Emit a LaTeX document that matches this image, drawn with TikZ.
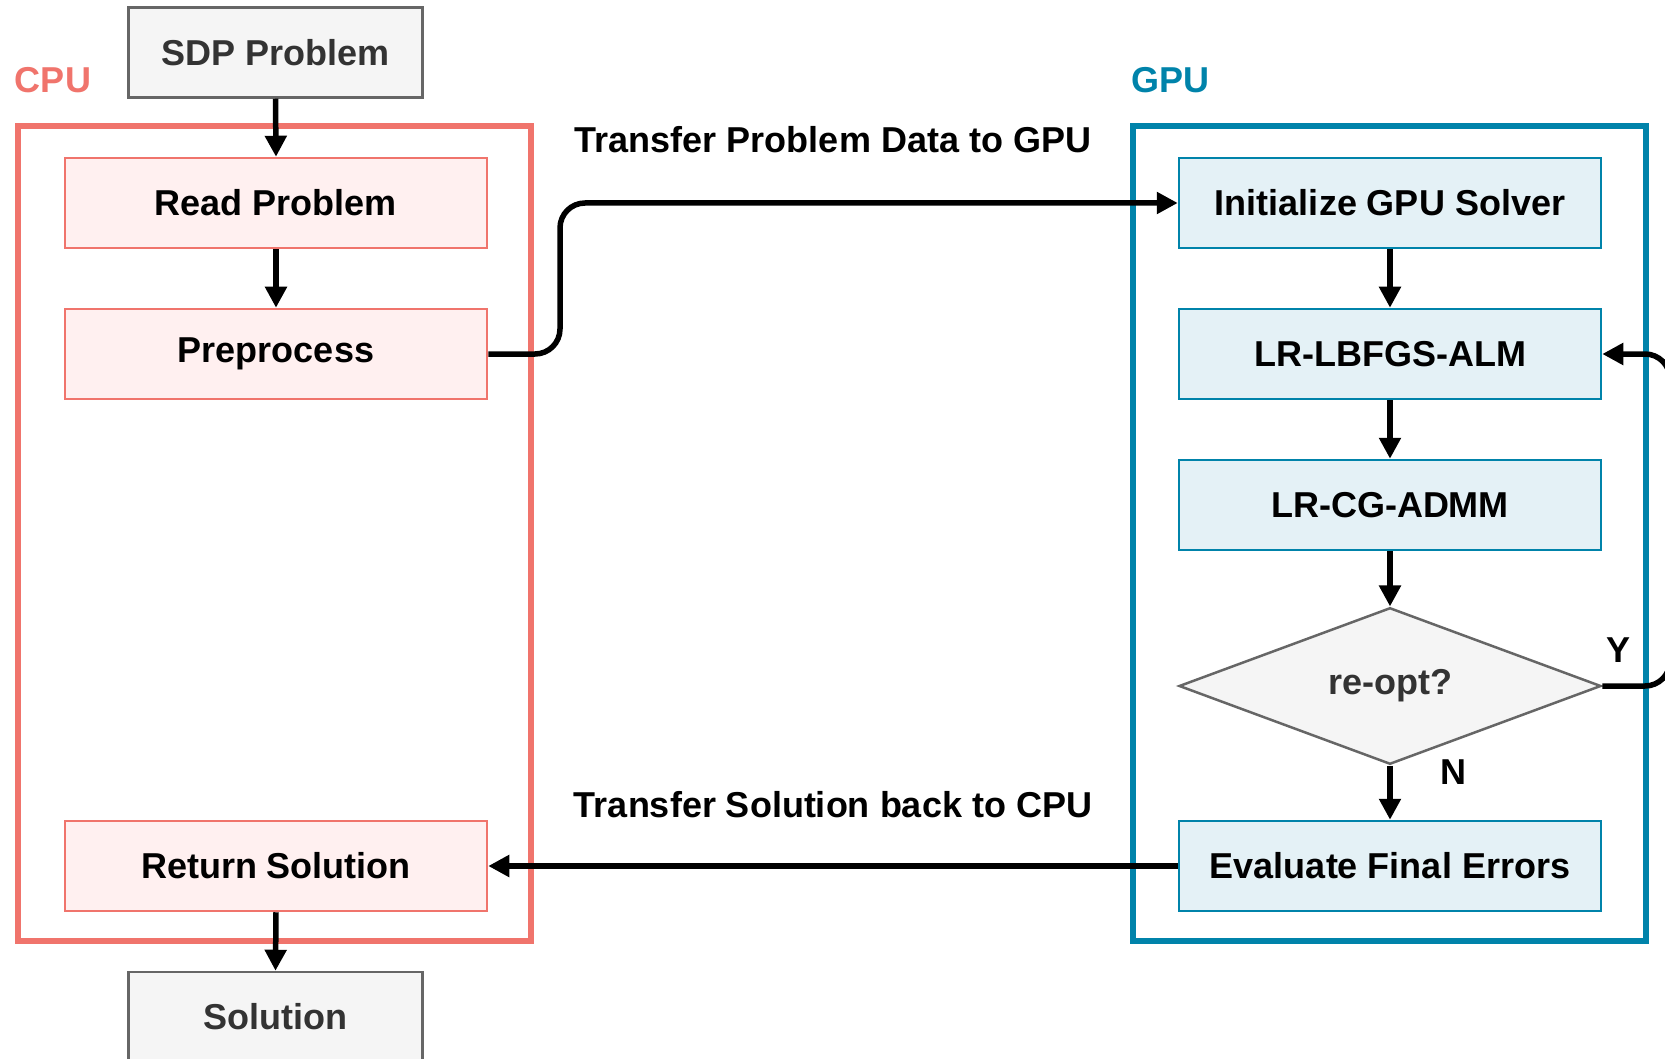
\documentclass[tikz,border=0pt]{standalone}
\usepackage{fontspec}
\setmainfont{Liberation Sans}
\usetikzlibrary{arrows.meta,shapes.geometric}
\definecolor{cpured}{HTML}{F0746C}
\definecolor{cpufill}{HTML}{FFF0F0}
\definecolor{gpublue}{HTML}{0083AA}
\definecolor{gpufill}{HTML}{E4F1F6}
\definecolor{grayfill}{HTML}{F5F5F5}
\definecolor{grayline}{HTML}{666666}
\definecolor{graytext}{HTML}{333333}
\tikzset{
  txt/.style={font=\fontsize{36}{43}\selectfont\bfseries},
  cpubox/.style={txt, draw=cpured, fill=cpufill, line width=2.5pt, minimum width=422pt, minimum height=90pt, inner sep=0pt},
  gpubox/.style={txt, draw=gpublue, fill=gpufill, line width=2.5pt, minimum width=422pt, minimum height=90pt, inner sep=0pt},
  iobox/.style={txt, draw=grayline, fill=grayfill, text=graytext, line width=2.5pt, minimum width=294pt, minimum height=90pt, inner sep=0pt},
  decbox/.style={txt, diamond, draw=grayline, fill=grayfill, text=graytext, line width=2.5pt, minimum width=422pt, minimum height=150pt, inner sep=0pt},
  conn/.style={line width=5.5pt, -{Triangle[length=21pt,width=21pt]}},
  container/.style={line width=5.5pt},
}
\begin{document}
\begin{tikzpicture}[x=1pt,y=-1pt]
\useasboundingbox (0,0) rectangle (1665,1059);
% containers
\draw[container, draw=cpured] (18,126) rectangle (531,941);
\draw[container, draw=gpublue] (1133,126) rectangle (1646,941);
\node[txt, text=cpured] (cpulbl) at (53,80) {CPU};
\node[txt, text=gpublue] (gpulbl) at (1170,80) {GPU};
% CPU side
\node[iobox] (sdp) at (275.5,52.5) {SDP Problem};
\node[cpubox] (read) at (276,203) {Read Problem};
\node[cpubox] (prep) at (276,354) {Preprocess};
\node[cpubox] (ret) at (276,866) {Return Solution};
\node[iobox] (sol) at (275.5,1017) {Solution};
% GPU side
\node[gpubox] (init) at (1390,203) {Initialize GPU Solver};
\node[gpubox] (lb) at (1390,354) {LR-LBFGS-ALM};
\node[gpubox] (cg) at (1390,505) {LR-CG-ADMM};
\node[decbox] (dec) at (1390,686) {re-opt?};
\node[gpubox] (eval) at (1390,866) {Evaluate Final Errors};
% labels
\node[txt] (tlbl1) at (833,140) {Transfer Problem Data to GPU};
\node[txt] (tlbl2) at (833,805) {Transfer Solution back to CPU};
\node[txt] (ylbl) at (1618,650) {Y};
\node[txt] (nlbl) at (1453,772) {N};
% connectors
\draw[conn] (sdp.south) -- (read.north);
\draw[conn] (read.south) -- (prep.north);
\draw[conn] (ret.south) -- (sol.north);
\draw[conn] (init.south) -- (lb.north);
\draw[conn] (lb.south) -- (cg.north);
\draw[conn] (cg.south) -- (dec.north);
\draw[conn] (dec.south) -- (eval.north);
\draw[conn, rounded corners=25pt] (prep.east) -- (560,354) |- (init.west);
\draw[conn] (eval.west) -- (ret.east);
\coordinate (loopc) at (1670,686);
\draw[conn, rounded corners=25pt] (dec.east) -- (loopc) |- (lb.east);
\end{tikzpicture}
\end{document}
